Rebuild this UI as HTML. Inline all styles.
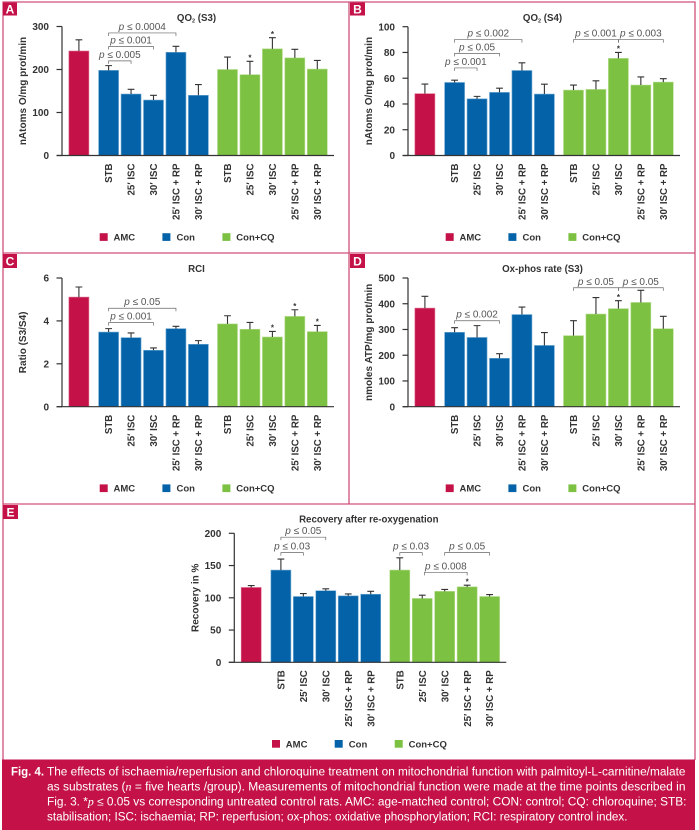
<!DOCTYPE html>
<html lang="en">
<head>
<meta charset="utf-8">
<title>Fig. 4 mitochondrial function</title>
<style>
html,body{margin:0;padding:0;background:#fff;width:699px;height:830px;overflow:hidden}
svg{display:block;font-family:"Liberation Sans",Arial,sans-serif}
</style>
</head>
<body>
<svg id="figure" width="699" height="830" viewBox="0 0 699 830" xmlns="http://www.w3.org/2000/svg">
  <rect x="0" y="0" width="699" height="830" fill="#fff"/>
  <g id="frames" stroke="#d0507a" stroke-width="1.3" fill="none">
    <path d="M3 760V2H695V760"/>
    <path d="M349 2V504"/>
    <path d="M3 253H695"/>
    <path d="M3 504H695"/>
  </g>
  <g font-weight="bold" font-size="12" fill="#fff" text-anchor="middle">
    <g><rect x="3" y="2.5" width="14" height="13" fill="#c41248"/><text x="10" y="13.5">A</text></g>
    <g><rect x="350" y="2.5" width="15" height="13" fill="#c41248"/><text x="357.5" y="13.5">B</text></g>
    <g><rect x="3" y="254" width="14" height="14" fill="#c41248"/><text x="10" y="265.5">C</text></g>
    <g><rect x="350" y="254" width="15" height="14" fill="#c41248"/><text x="357.5" y="265.5">D</text></g>
    <g><rect x="3" y="505" width="15" height="14" fill="#c41248"/><text x="10.5" y="516.5">E</text></g>
  </g>
  <g id="plots"></g>
  <g>
    <rect x="2" y="759.5" width="693" height="70.5" fill="#c41248"/>
    <g fill="#fff" font-size="11.5">
      <text x="11" y="775.5" font-weight="bold" textLength="33" lengthAdjust="spacingAndGlyphs">Fig. 4.</text>
      <text x="47" y="775.5" textLength="638.5" lengthAdjust="spacingAndGlyphs">The effects of ischaemia/reperfusion and chloroquine treatment on mitochondrial function with palmitoyl-L-carnitine/malate</text>
      <text x="47" y="790.5" textLength="638.5" lengthAdjust="spacingAndGlyphs">as substrates (<tspan font-family="Liberation Serif" font-style="italic">n</tspan> = five hearts /group). Measurements of mitochondrial function were made at the time points described in</text>
      <text x="47" y="805.5" textLength="639.5" lengthAdjust="spacingAndGlyphs">Fig. 3. *<tspan font-family="Liberation Serif" font-style="italic">p</tspan> ≤ 0.05 vs corresponding untreated control rats. AMC: age-matched control; CON: control; CQ: chloroquine; STB:</text>
      <text x="47" y="820.5" textLength="580.5" lengthAdjust="spacingAndGlyphs">stabilisation; ISC: ischaemia; RP: reperfusion; ox-phos: oxidative phosphorylation; RCI: respiratory control index.</text>
    </g>
  </g>
</svg>
<script>
const categories = ["", "STB", "25′ ISC", "30′ ISC", "25′ ISC + RP", "30′ ISC + RP", "STB", "25′ ISC", "30′ ISC", "25′ ISC + RP", "30′ ISC + RP"];
const legendLabels = ["AMC", "Con", "Con+CQ"];

const panelATicks = [0, 100, 200, 300];
const panelAValues = [243, 198, 143, 129, 240, 140, 200, 188, 248, 227, 201];
const panelAErrors = [26, 11, 11, 11, 14, 25, 29, 31, 26, 20, 20];
const panelAStars = [7, 8];
const panelABrackets = [[1, 4, 285, "0.0004"], [1, 3, 253.5, "0.001"], [1, 2, 220, "0.005"]];

const panelBTicks = [0, 20, 40, 60, 80, 100];
const panelBValues = [48, 56.7, 44, 49, 66, 47.7, 50.8, 51.3, 75.4, 54.7, 57];
const panelBErrors = [7.5, 1.8, 1.9, 3.3, 6, 7.7, 3.9, 6.7, 4.6, 6.3, 2.6];
const panelBStars = [8];
const panelBBrackets = [[1, 4, 90, "0.002"], [1, 3, 79.3, "0.05"], [1, 2, 68, "0.001"], [6, 8, 90, "0.001"], [8, 10, 90, "0.003"]];

const panelCTicks = [0, 2, 4, 6];
const panelCValues = [5.11, 3.48, 3.22, 2.63, 3.64, 2.91, 3.86, 3.61, 3.25, 4.21, 3.5];
const panelCErrors = [0.47, 0.16, 0.22, 0.11, 0.11, 0.17, 0.38, 0.32, 0.26, 0.31, 0.29];
const panelCStars = [8, 9, 10];
const panelCBrackets = [[1, 4, 4.59, "0.05"], [1, 3, 3.92, "0.001"]];

const panelDTicks = [0, 100, 200, 300, 400, 500];
const panelDValues = [383, 289, 269, 188, 358, 238, 276, 360, 381, 405, 303];
const panelDErrors = [46, 18, 46, 18, 29, 50, 58, 64, 31, 47, 48];
const panelDStars = [8];
const panelDBrackets = [[1, 3, 334, "0.002"], [6, 8, 462, "0.05"], [8, 10, 462, "0.05"]];

const panelETicks = [0, 50, 100, 150, 200];
const panelEValues = [116, 143, 102, 111, 103, 105.5, 143, 99, 110, 117, 102];
const panelEErrors = [3, 17, 4.5, 3, 3, 4.5, 19, 5, 3, 2.5, 3];
const panelEStars = [9];
const panelEBrackets = [[1, 3, 194, "0.05"], [1, 2, 170, "0.03"], [6, 7, 170, "0.03"], [8, 10, 170, "0.05"], [7.1, 9, 139.5, "0.008"]];

const NS = "http://www.w3.org/2000/svg";
const CRIMSON = "#c41248", BLUE = "#0463a8", GREEN = "#7cc142";
const INK = "#333";

function make(parent, tag, attrs, text) {
  const el = document.createElementNS(NS, tag);
  for (const k in attrs) el.setAttribute(k, attrs[k]);
  if (text !== undefined) el.textContent = text;
  parent.appendChild(el);
  return el;
}

function groupFill(i) { return i === 0 ? CRIMSON : (i < 6 ? BLUE : GREEN); }
function groupEdge(i) { return i === 0 ? "#dd6a8e" : (i < 6 ? "#72abd4" : "#b4dc8c"); }

function drawPanel(id, axisX, baseY, topY, title, titleY, yTitle, ticks, values, errors, stars, brackets) {
  const yMax = ticks[ticks.length - 1];
  const barW = 20;
  const xLeft = function (i) {
    if (i === 0) return axisX + 6.9;
    if (i < 6) return axisX + 36.6 + (i - 1) * 22.45;
    return axisX + 155.5 + (i - 6) * 22.45;
  };
  const xCenter = function (i) {
    const lo = Math.floor(i), frac = i - lo;
    return xLeft(lo) + barW / 2 + frac * 22.45;
  };
  const yScale = function (v) { return baseY - (v / yMax) * (baseY - topY); };

  const root = document.getElementById("plots");
  const g = make(root, "g", {});
  
  

  const titleEl = make(g, "text", { x: axisX + 134.5, y: titleY, "text-anchor": "middle", "font-size": 9.7, "font-weight": "bold", fill: INK });
  
  
  title.forEach(function (part) {
    const ts = make(titleEl, "tspan", part[1] ? { "font-size": 5.5, dy: 1.5 } : (part[2] ? { dy: -1.5 } : {}), part[0]);
    
    
  });

  const yTitleEl = make(g, "text", { transform: "translate(" + (axisX - 36) + "," + ((baseY + topY) / 2) + ") rotate(-90)", "text-anchor": "middle", "font-size": 10, "font-weight": "bold", fill: INK }, yTitle);
  
  

  values.forEach(function (v, i) {
    const bar = make(g, "rect", { x: xLeft(i), y: yScale(v), width: barW, height: baseY - yScale(v), fill: groupFill(i), stroke: groupEdge(i), "stroke-width": 0.6 });
    
    
    const cx = xCenter(i), ty = yScale(v + errors[i]);
    const err = make(g, "path", { d: "M" + cx + " " + yScale(v) + "V" + ty + "M" + (cx - 3.4) + " " + ty + "H" + (cx + 3.4), stroke: INK, "stroke-width": 1.1, fill: "none" });
    
    
    if (categories[i]) {
      const lab = make(g, "text", { transform: "translate(" + (cx + 3.6) + "," + (baseY + 8) + ") rotate(-90)", "text-anchor": "end", "font-size": 9.7, "font-weight": "bold", fill: INK }, categories[i]);
      
      
    }
  });

  const axes = make(g, "path", { d: "M" + axisX + " " + topY + "V" + baseY + "M" + (axisX - 5.5) + " " + baseY + "H" + (axisX + 272), stroke: INK, "stroke-width": 1.2, fill: "none" });
  
  

  ticks.forEach(function (t) {
    const y = yScale(t);
    const mark = make(g, "path", { d: "M" + (axisX - 5.5) + " " + y + "H" + axisX, stroke: INK, "stroke-width": 1.2 });
    
    
    const lab = make(g, "text", { x: axisX - 13, y: y + 3.6, "text-anchor": "end", "font-size": 10, "font-weight": "bold", fill: INK }, String(t));
    
    
  });

  stars.forEach(function (i) {
    const s = make(g, "text", { x: xCenter(i), y: yScale(values[i] + errors[i]) - 0.8, "text-anchor": "middle", "font-size": 8, "font-weight": "bold", fill: INK }, "*");
    
    
  });

  brackets.forEach(function (b) {
    const x1 = xCenter(b[0]), x2 = xCenter(b[1]), y = yScale(b[2]);
    const br = make(g, "path", { d: "M" + x1 + " " + (y + 3) + "V" + y + "H" + x2 + "V" + (y + 3), stroke: "#666", "stroke-width": 0.7, fill: "none" });
    
    
    const t = make(g, "text", { x: (x1 + x2) / 2, y: y - 3, "text-anchor": "middle", "font-size": 10, fill: "#555" });
    
    
    const pp = make(t, "tspan", { "font-style": "italic" }, "p");
    
    
    const rest = make(t, "tspan", {}, " ≤ " + b[3]);
    
    
  });

  legendLabels.forEach(function (label, k) {
    const swX = axisX + [37.7, 100.4, 160.4][k];
    const txX = axisX + [51.5, 114.5, 174.3][k];
    const sw = make(g, "rect", { x: swX, y: baseY + 77.7, width: 8, height: 7.7, fill: [CRIMSON, BLUE, GREEN][k] });
    
    
    const tx = make(g, "text", { x: txX, y: baseY + 85, "font-size": 9.5, "font-weight": "bold", fill: INK }, label);
    
    
  });
}

drawPanel("a", 62, 155.5, 26.5, [["QO"], ["2", true], [" (S3)", false, true]], 21, "nAtoms O/mg prot/min", panelATicks, panelAValues, panelAErrors, panelAStars, panelABrackets);
drawPanel("b", 408, 155.5, 26.7, [["QO"], ["2", true], [" (S4)", false, true]], 21, "nAtoms O/mg prot/min", panelBTicks, panelBValues, panelBErrors, panelBStars, panelBBrackets);
drawPanel("c", 62, 406.7, 278, [["RCI"]], 272, "Ratio (S3/S4)", panelCTicks, panelCValues, panelCErrors, panelCStars, panelCBrackets);
drawPanel("d", 408, 406.7, 278, [["Ox-phos rate (S3)"]], 272, "nmoles ATP/mg prot/min", panelDTicks, panelDValues, panelDErrors, panelDStars, panelDBrackets);
drawPanel("e", 234.3, 662.3, 533.3, [["Recovery after re-oxygenation"]], 522.7, "Recovery in %", panelETicks, panelEValues, panelEErrors, panelEStars, panelEBrackets);
</script>
</body>
</html>
